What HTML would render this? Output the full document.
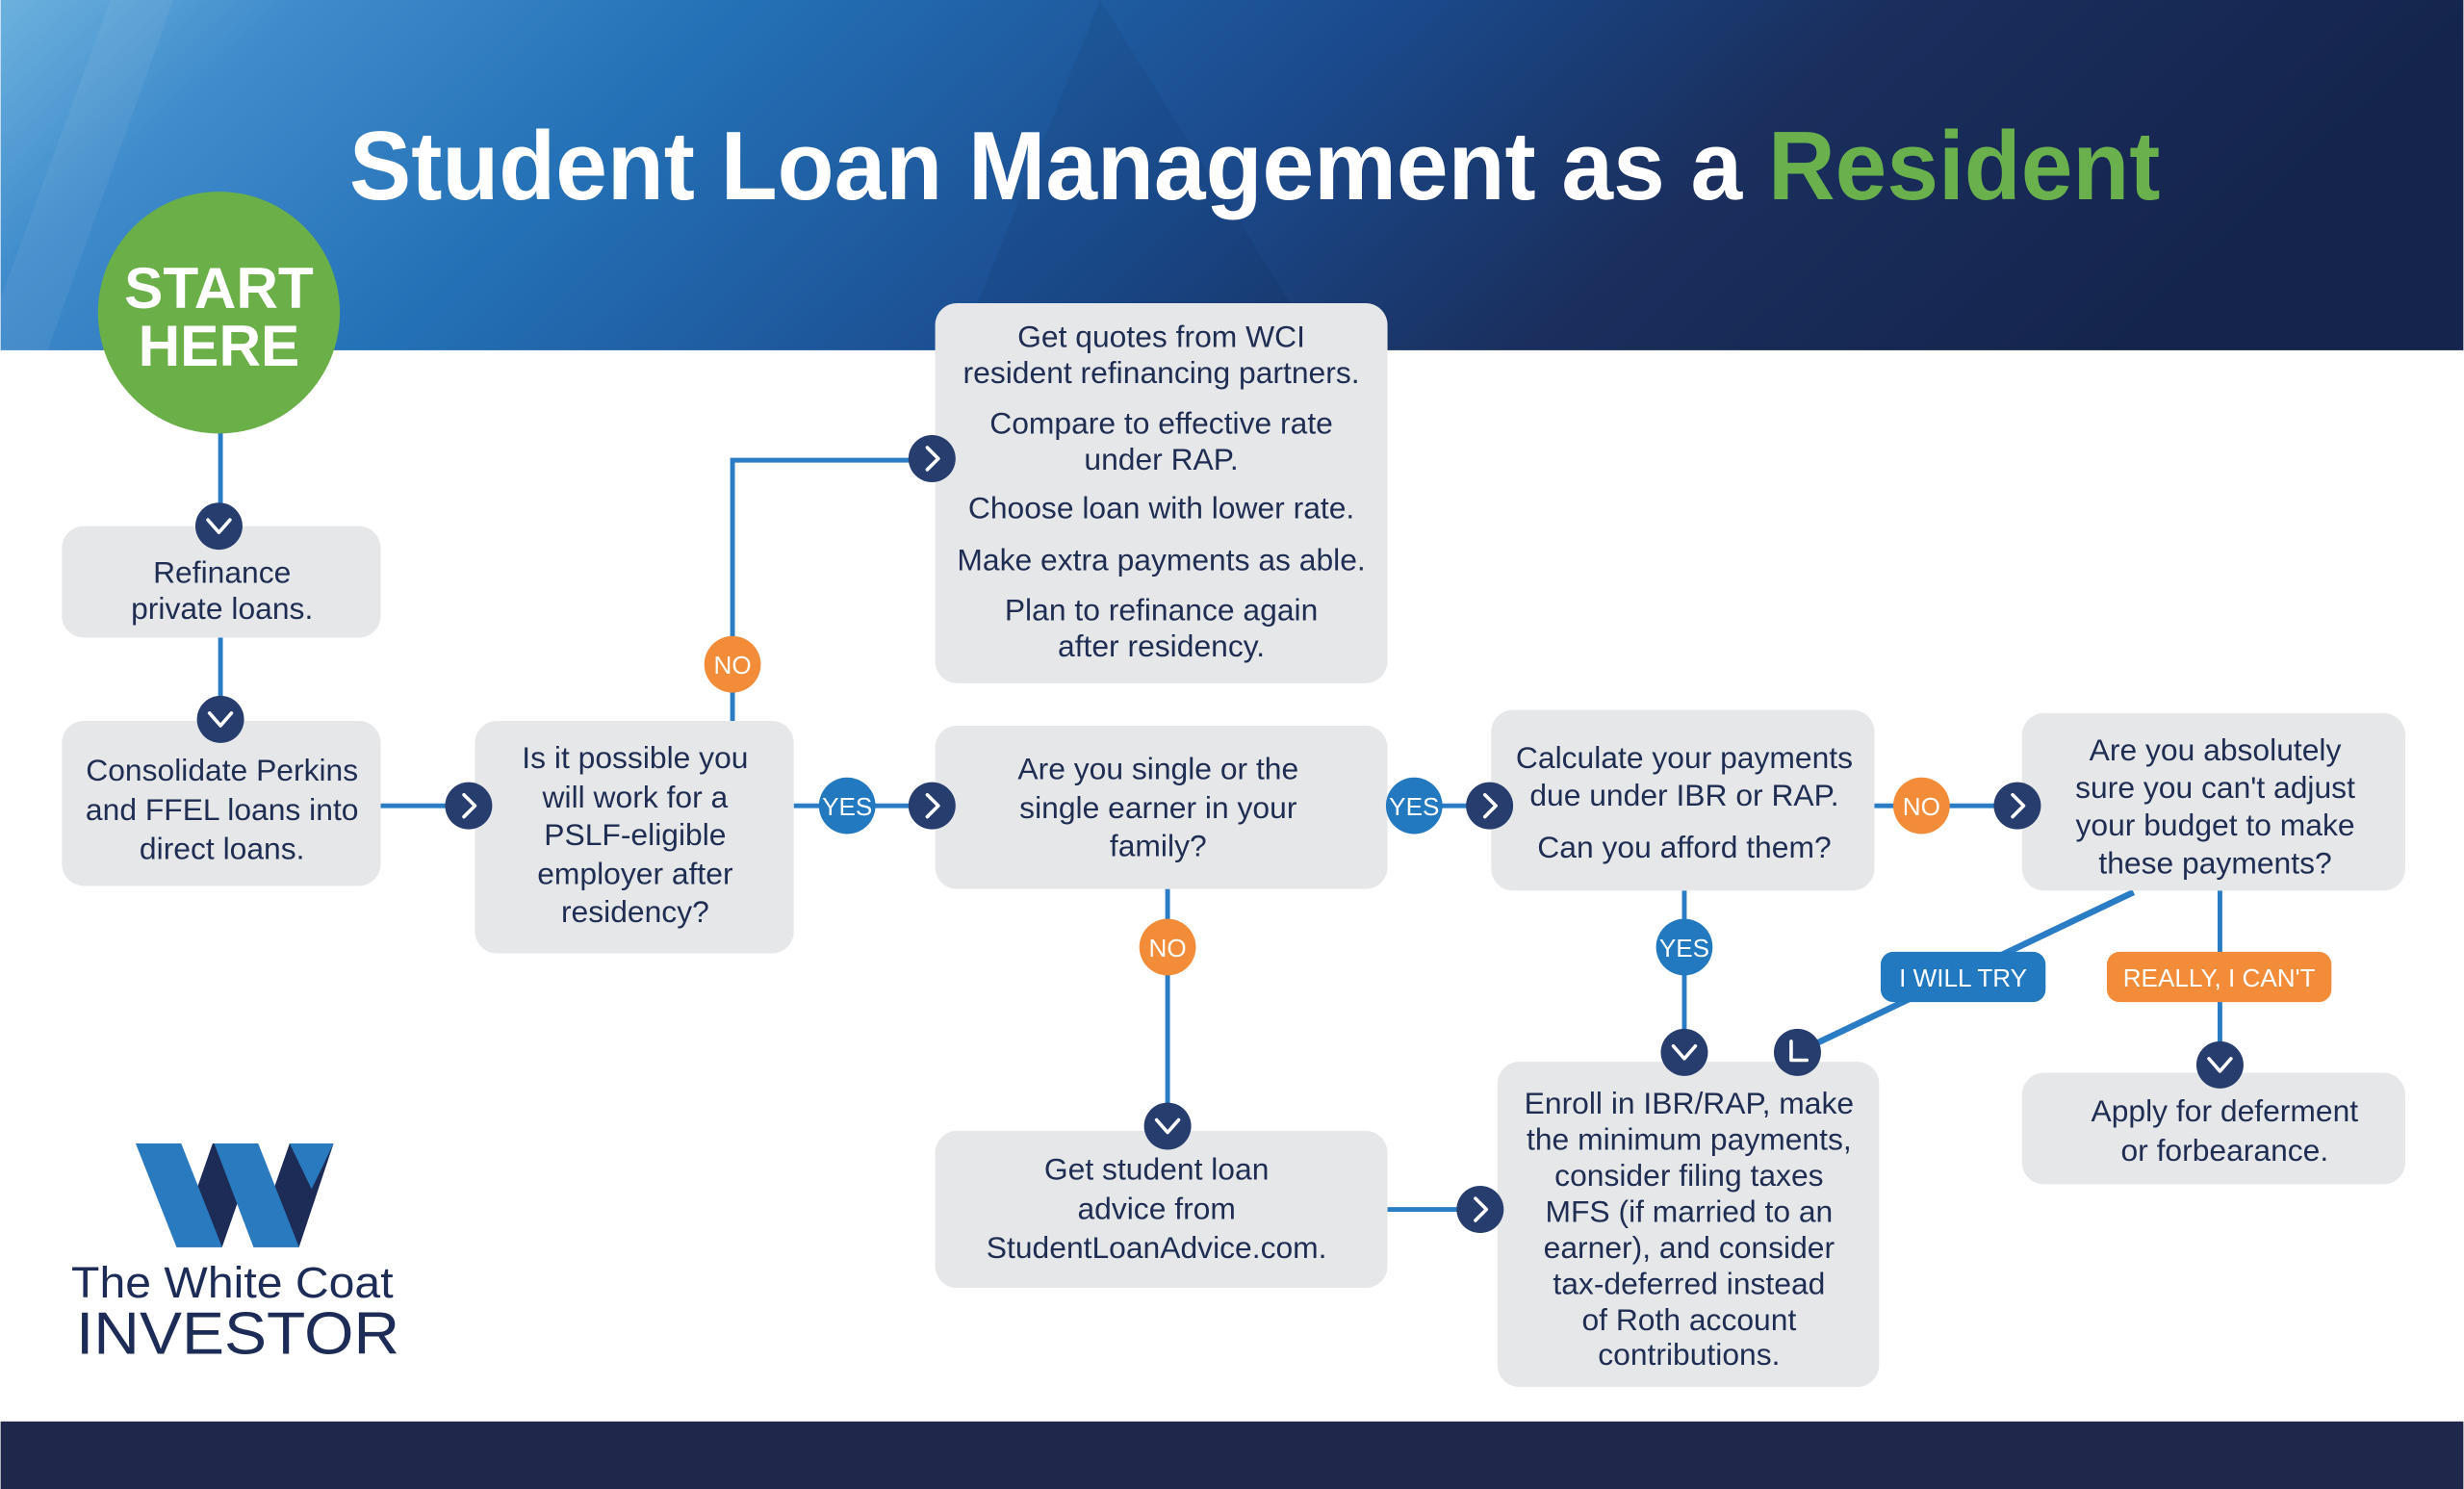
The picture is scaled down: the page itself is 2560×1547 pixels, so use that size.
<!DOCTYPE html>
<html><head><meta charset="utf-8"><style>
html,body{margin:0;padding:0;background:#fff;}
svg{display:block;}
text{font-family:"Liberation Sans",sans-serif;}
.bt{font-size:19.5px;fill:#1f2d52;text-anchor:middle;}
.pl{font-size:16px;fill:#fff;text-anchor:middle;}
</style></head><body>
<svg width="2560" height="1547" viewBox="0 0 1568 948" xmlns="http://www.w3.org/2000/svg">
<defs>
<linearGradient id="hg" x1="0" y1="0" x2="1" y2="0.15">
<stop offset="0" stop-color="#6db2de"/>
<stop offset="0.12" stop-color="#3f8bcb"/>
<stop offset="0.3" stop-color="#2470b6"/>
<stop offset="0.55" stop-color="#1b4b8e"/>
<stop offset="0.75" stop-color="#1a2f5e"/>
<stop offset="1" stop-color="#14244c"/>
</linearGradient>
</defs>
<rect x="0" y="0" width="1568" height="223" fill="url(#hg)"/>
<polygon points="0,190 70,0 110,0 30,223 0,223" fill="#ffffff" opacity="0.06"/>
<polygon points="610,223 700,0 840,223" fill="#000" opacity="0.05"/>
<rect x="0" y="905" width="1568" height="43" fill="#1f274b"/>

<text x="222" y="127" font-size="62" font-weight="bold" fill="#fff" textLength="1153" lengthAdjust="spacingAndGlyphs">Student Loan Management as a <tspan fill="#6ab04c">Resident</tspan></text>

<!-- connectors -->
<g stroke="#2a7dc5" stroke-width="3" fill="none">
<line x1="140" y1="270" x2="140" y2="335"/>
<line x1="140" y1="406" x2="140" y2="458"/>
<line x1="242" y1="513" x2="298" y2="513"/>
<line x1="505" y1="513" x2="593" y2="513"/>
<polyline points="466,459 466,293 593,293"/>
<line x1="883" y1="513" x2="948" y2="513"/>
<line x1="743" y1="566" x2="743" y2="717"/>
<line x1="883" y1="770" x2="942" y2="770"/>
<line x1="1193" y1="513" x2="1284" y2="513"/>
<line x1="1072" y1="567" x2="1072" y2="670"/>
<line x1="1358" y1="568" x2="1144" y2="670" stroke-width="4"/>
<line x1="1413" y1="567" x2="1413" y2="678"/>
</g>

<!-- start -->
<circle cx="139" cy="199" r="77" fill="#6aaf47"/>
<text x="139" y="196" font-size="37" font-weight="bold" fill="#fff" text-anchor="middle">START</text>
<text x="139" y="233" font-size="37" font-weight="bold" fill="#fff" text-anchor="middle">HERE</text>

<!-- boxes -->
<g fill="#e6e7e9">
<rect x="39" y="335" width="203" height="71" rx="14"/>
<rect x="39" y="459" width="203" height="105" rx="14"/>
<rect x="302" y="459" width="203" height="148" rx="14"/>
<rect x="595" y="193" width="288" height="242" rx="14"/>
<rect x="595" y="462" width="288" height="104" rx="14"/>
<rect x="595" y="720" width="288" height="100" rx="14"/>
<rect x="949" y="452" width="244" height="115" rx="14"/>
<rect x="1287" y="454" width="244" height="113" rx="14"/>
<rect x="953" y="676" width="243" height="207" rx="14"/>
<rect x="1287" y="683" width="244" height="71" rx="14"/>
</g>

<g class="bt">
<text class="bt" x="141" y="371">Refinance</text>
<text class="bt" x="141" y="394">private loans.</text>
<text class="bt" x="141" y="497">Consolidate Perkins</text>
<text class="bt" x="141" y="522">and FFEL loans into</text>
<text class="bt" x="141" y="547">direct loans.</text>
<text class="bt" x="404" y="489">Is it possible you</text>
<text class="bt" x="404" y="514">will work for a</text>
<text class="bt" x="404" y="538">PSLF-eligible</text>
<text class="bt" x="404" y="563">employer after</text>
<text class="bt" x="404" y="587">residency?</text>
<text class="bt" x="739" y="221">Get quotes from WCI</text>
<text class="bt" x="739" y="244">resident refinancing partners.</text>
<text class="bt" x="739" y="276">Compare to effective rate</text>
<text class="bt" x="739" y="299">under RAP.</text>
<text class="bt" x="739" y="330">Choose loan with lower rate.</text>
<text class="bt" x="739" y="363">Make extra payments as able.</text>
<text class="bt" x="739" y="395">Plan to refinance again</text>
<text class="bt" x="739" y="418">after residency.</text>
<text class="bt" x="737" y="496">Are you single or the</text>
<text class="bt" x="737" y="521">single earner in your</text>
<text class="bt" x="737" y="545">family?</text>
<text class="bt" x="736" y="751">Get student loan</text>
<text class="bt" x="736" y="776">advice from</text>
<text class="bt" x="736" y="801">StudentLoanAdvice.com.</text>
<text class="bt" x="1072" y="489">Calculate your payments</text>
<text class="bt" x="1072" y="513">due under IBR or RAP.</text>
<text class="bt" x="1072" y="546">Can you afford them?</text>
<text class="bt" x="1410" y="484">Are you absolutely</text>
<text class="bt" x="1410" y="508">sure you can't adjust</text>
<text class="bt" x="1410" y="532">your budget to make</text>
<text class="bt" x="1410" y="556">these payments?</text>
<text class="bt" x="1075" y="709">Enroll in IBR/RAP, make</text>
<text class="bt" x="1075" y="732">the minimum payments,</text>
<text class="bt" x="1075" y="755">consider filing taxes</text>
<text class="bt" x="1075" y="778">MFS (if married to an</text>
<text class="bt" x="1075" y="801">earner), and consider</text>
<text class="bt" x="1075" y="824">tax-deferred instead</text>
<text class="bt" x="1075" y="847">of Roth account</text>
<text class="bt" x="1075" y="869">contributions.</text>
<text class="bt" x="1416" y="714">Apply for deferment</text>
<text class="bt" x="1416" y="739">or forbearance.</text>
</g>

<!-- labels -->
<circle cx="539" cy="513" r="18" fill="#2279c0"/><text class="pl" x="539" y="519">YES</text>
<circle cx="900" cy="513" r="18" fill="#2279c0"/><text class="pl" x="900" y="519">YES</text>
<circle cx="1072" cy="603" r="18" fill="#2279c0"/><text class="pl" x="1072" y="609">YES</text>
<circle cx="466" cy="423" r="18" fill="#f28c38"/><text class="pl" x="466" y="429">NO</text>
<circle cx="743" cy="603" r="18" fill="#f28c38"/><text class="pl" x="743" y="609">NO</text>
<circle cx="1223" cy="513" r="18" fill="#f28c38"/><text class="pl" x="1223" y="519">NO</text>
<rect x="1197" y="606" width="105" height="32" rx="8" fill="#2279c0"/><text class="pl" x="1249.5" y="628">I WILL TRY</text>
<rect x="1341" y="606" width="143" height="32" rx="8" fill="#f28c38"/><text class="pl" x="1412.5" y="628">REALLY, I CAN'T</text>

<!-- chevrons -->
<g fill="#263d6e">
<circle cx="139" cy="335" r="15"/><circle cx="140" cy="458" r="15"/>
<circle cx="298" cy="513" r="15"/><circle cx="593" cy="513" r="15"/><circle cx="593" cy="292" r="15"/>
<circle cx="948" cy="513" r="15"/><circle cx="743" cy="717" r="15"/><circle cx="942" cy="770" r="15"/>
<circle cx="1284" cy="513" r="15"/><circle cx="1072" cy="670" r="15"/><circle cx="1144" cy="670" r="15"/>
<circle cx="1413" cy="678" r="15"/>
</g>
<g stroke="#fff" stroke-width="2.2" fill="none" stroke-linecap="round" stroke-linejoin="round">
<polyline points="132,331 139,339 146,331"/>
<polyline points="133,454 140,462 147,454"/>
<polyline points="736,713 743,721 750,713"/>
<polyline points="1065,666 1072,674 1079,666"/>
<polyline points="1406,674 1413,682 1420,674"/>
<polyline points="295,506 302,513 295,520"/>
<polyline points="590,506 597,513 590,520"/>
<polyline points="590,285 597,292 590,299"/>
<polyline points="945,506 952,513 945,520"/>
<polyline points="939,763 946,770 939,777"/>
<polyline points="1281,506 1288,513 1281,520"/>
<polyline points="1140,663 1140,675 1150,675"/>
</g>

<!-- logo -->
<polygon points="112,794 141,794 164,728 135,728" fill="#1c2c56"/>
<polygon points="161,794 190,794 212,728 184,728" fill="#1c2c56"/>
<polygon points="86,728 115,728 141,794 112,794" fill="#2a7ac0"/>
<polygon points="136,728 164,728 190,794 161,794" fill="#2a7ac0"/>
<polygon points="184,728 212,728 198,757" fill="#2a7ac0"/>
<text x="45" y="826" font-size="28" fill="#1c2c56" textLength="205" lengthAdjust="spacingAndGlyphs">The White Coat</text>
<text x="48" y="862" font-size="38" fill="#1c2c56" textLength="206" lengthAdjust="spacingAndGlyphs">INVESTOR</text>
</svg>
</body></html>
